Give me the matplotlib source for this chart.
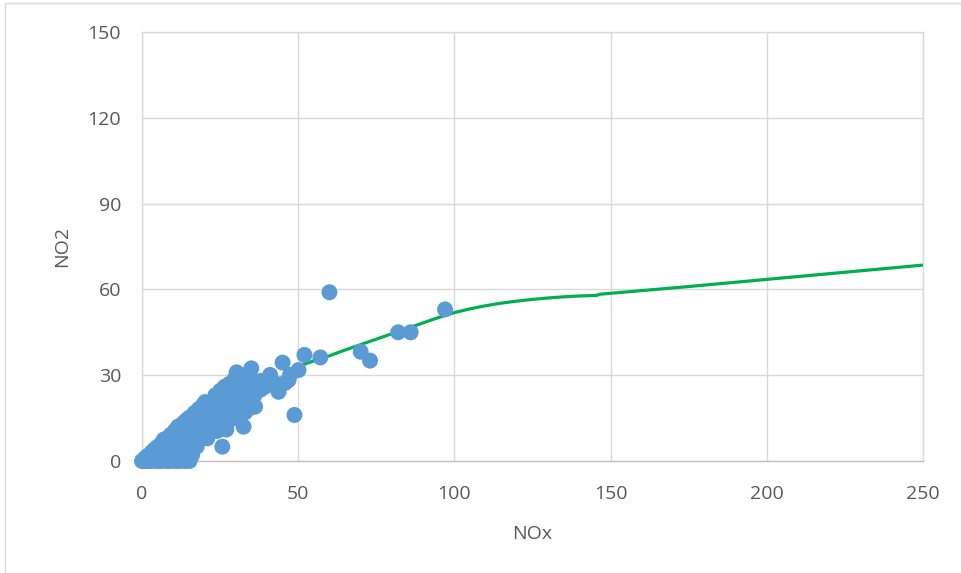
import numpy as np
import matplotlib
matplotlib.use("Agg")
import matplotlib.pyplot as plt
from matplotlib.patches import Rectangle

plt.rcParams['font.family'] = ['Open Sans', 'DejaVu Sans']

# measured points (NOx, NO2)
nox = [0, 1, 1, 2.5, 2.5, 4, 4, 4, 5.5, 5.5, 5.5, 7, 7, 7, 7,
       8.5, 8.5, 8.5, 8.5, 10, 10, 10, 10, 10.5, 11.5, 11.5, 11.5, 11.5, 11.5,
       13, 13, 13, 13, 13, 14.5, 14.5, 14.5, 14.5, 14.5, 16, 16, 16, 16, 16,
       17.5, 17.5, 17.5, 17.5, 17.5, 19, 19, 19, 19, 19.5, 20.5, 20.5, 20.5, 20.5, 20.2,
       22, 22, 22, 22, 23.5, 23.5, 23.5, 23.5, 23.5, 25, 25, 25, 25, 25,
       26.5, 26.5, 26.5, 26.5, 26.5, 28, 28, 28, 28, 28, 29.5, 29.5, 29.5, 29.5, 29.5,
       31, 31, 31, 31, 30.3, 30.7, 33, 33, 33, 33, 33, 32.5,
       34.5, 34.5, 34.5, 34.5, 35, 36.2, 36, 36, 38, 38, 39.4, 41, 40, 42.6, 43.7,
       45.8, 46.9, 47.4, 45, 50.1, 52, 57.1, 48.8, 25.7, 20.9, 15.9,
       3, 6, 9, 12, 15, 6, 9, 12, 15, 18, 21, 24, 27,
       0.8, 2.2, 3.2, 4.8, 6.2, 7.8, 9.2, 10.8, 12.2, 13.8, 15.2,
       1.8, 3.2, 4.8, 6.2, 7.8, 9.2, 10.8, 12.2, 13.8, 15.2, 16.8, 18.2,
       60, 70, 73, 82, 86, 97]
no2 = [0, 0, 1, 0, 2, 0.5, 2, 4, 0, 2.5, 5, 0.5, 3, 5.5, 7.5,
       0, 2.5, 5, 8, 0.5, 3, 6, 9, 10.5, 0, 3, 6, 9, 12,
       0.5, 3.5, 7, 10, 13, 1, 4, 7.5, 11, 14.5, 2, 5, 8.5, 12, 15.5,
       5, 8, 11, 14, 17, 8.5, 11.5, 14.5, 17.5, 19.5, 10, 13, 16, 19, 20.6,
       11.5, 14.5, 17.5, 20.5, 12, 15, 18, 21, 23, 13, 16, 19, 22, 24.5,
       13.5, 17, 20, 23, 26, 14.5, 17.5, 20.5, 23.5, 27, 15, 18.5, 22, 25, 28.5,
       16, 19, 22.5, 26, 31, 29.5, 17, 20.5, 24, 27, 30, 12,
       18.5, 22, 25.5, 29, 32.4, 19, 23, 27, 25, 28, 26, 30.1, 27, 27.2, 24.2,
       27.3, 28.3, 30.1, 34.4, 31.8, 37.1, 36.2, 16.1, 5, 7.9, 2.1,
       1.5, 1, 1.5, 1, 1, 4, 4.5, 5, 6, 9, 9.5, 10.5, 11,
       0, 0, 0, 0, 0, 0, 0, 0, 0, 0, 0,
       1.8, 3.2, 4.8, 6.2, 7.8, 9.2, 10.8, 12.2, 13.8, 15.2, 16.8, 18.2,
       59, 38.2, 35.1, 45, 45, 53]

# fitted curve
fit_x = [48, 50, 55, 60, 65, 70, 75, 80, 85, 90, 95, 100, 105, 110, 115, 120,
         125, 130, 135, 140, 145.5, 146.5, 175, 200, 225, 250]
fit_y = [32.3, 33.1, 35.0, 36.8, 38.8, 40.7, 42.6, 44.5, 46.4, 48.3, 50.2, 51.9,
         53.2, 54.3, 55.2, 55.9, 56.5, 57.0, 57.4, 57.7, 57.9, 58.3, 61.0, 63.5, 66.0, 68.5]

x_ticks = [0, 50, 100, 150, 200, 250]
y_ticks = [0, 30, 60, 90, 120, 150]

fig = plt.figure(figsize=(9.61, 5.73), dpi=100)
fig.patches.append(Rectangle((5 / 961, -0.1), 2, 1 - 3.5 / 573 + 0.1, transform=fig.transFigure,
                             fill=False, edgecolor="#d9d9d9", linewidth=1))
ax = fig.add_axes([142 / 961, 1 - 461 / 573, 781 / 961, 429 / 573])

ax.plot(fit_x, fit_y, color="#00B050", linewidth=2.3, zorder=3, solid_capstyle="butt")
ax.scatter(nox, no2, s=132, color="#5B9BD5", edgecolors="none", zorder=4, clip_on=False)

ax.set_xlim(0, 250)
ax.set_ylim(0, 150)
ax.set_xticks(x_ticks)
ax.set_yticks(y_ticks)
ax.grid(True, color="#d9d9d9", linewidth=1)
ax.set_axisbelow(True)
for s in ax.spines.values():
    s.set_color("#d9d9d9")
    s.set_linewidth(1)
ax.spines["bottom"].set_color("#bfbfbf")
ax.tick_params(length=0, labelsize=14, labelcolor="#595959")
ax.tick_params(axis="x", pad=17)
ax.tick_params(axis="y", pad=15)
ax.set_xlabel("NOx", fontsize=14, color="#595959", labelpad=16)
ax.set_ylabel("NO2", fontsize=14, color="#595959", labelpad=12)

fig.savefig("out.png", dpi=100)
